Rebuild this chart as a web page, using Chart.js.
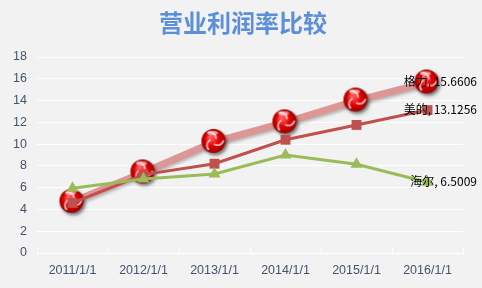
<!DOCTYPE html>
<html>
<head>
<meta charset="utf-8">
<script src="https://cdn.jsdelivr.net/npm/chart.js@4.4.1/dist/chart.umd.min.js"></script>
<style>
  html, body { margin: 0; padding: 0; background: #f2f2f2; }
  #wrap { width: 482px; height: 288px; }
</style>
</head>
<body>
<div id="wrap"><canvas id="chart" width="482" height="288"></canvas></div>
<script>
const years = ["2011/1/1", "2012/1/1", "2013/1/1", "2014/1/1", "2015/1/1", "2016/1/1"];
const geli = [4.7, 7.4, 10.2, 12.0, 14.0, 15.6606];
const meidi = [4.6, 7.2, 8.2, 10.4, 11.76, 13.1256];
const haier = [5.95, 6.8, 7.25, 9.0, 8.15, 6.5009];
const yTicks = [0, 2, 4, 6, 8, 10, 12, 14, 16, 18];
const titleText = "营业利润率比较";

// red glossy ball marker
const makeBall = () => {
  const c = document.createElement("canvas");
  c.width = 32; c.height = 32;
  const g = c.getContext("2d");
  const cx = 15, cy = 15, r = 12;
  g.save();
  g.shadowColor = "rgba(0,0,0,0.35)";
  g.shadowBlur = 3;
  g.shadowOffsetX = 2;
  g.shadowOffsetY = 2;
  const grad = g.createRadialGradient(cx - 3, cy - 4, 1, cx, cy, r);
  grad.addColorStop(0, "#ff6060");
  grad.addColorStop(0.55, "#e60000");
  grad.addColorStop(1, "#960000");
  g.fillStyle = grad;
  g.beginPath(); g.arc(cx, cy, r, 0, Math.PI * 2); g.fill();
  g.restore();
  // swirl
  g.strokeStyle = "rgba(255,235,235,0.85)";
  g.lineWidth = 1.7;
  for (let k = 0; k < 3; k++) {
    const a = k * 2 * Math.PI / 3 - 0.4;
    g.beginPath();
    g.arc(cx + Math.cos(a) * 4.5, cy + Math.sin(a) * 4.5, 6, a + 0.6, a + 2.6);
    g.stroke();
  }
  g.fillStyle = "rgba(255,255,255,0.55)";
  g.beginPath(); g.ellipse(cx - 1, cy - 8, 5.5, 2.3, 0, 0, Math.PI * 2); g.fill();
  return c;
};
const ball = makeBall();

const titlePlugin = {
  id: "centerTitle",
  afterDraw(chart) {
    const ctx = chart.ctx;
    ctx.save();
    ctx.font = "bold 24px 'Noto Sans CJK SC', sans-serif";
    ctx.fillStyle = "#5b8fd8";
    ctx.textAlign = "center";
    ctx.textBaseline = "middle";
    ctx.fillText(titleText, 243, 23);
    ctx.restore();
  },
};

const shadowPlugin = {
  id: "shadowLine",
  beforeDatasetDraw(chart, args) {
    if (args.index !== 0) return;
    const ctx = chart.ctx;
    ctx.save();
    ctx.shadowColor = "rgba(0,0,0,0.25)";
    ctx.shadowBlur = 3;
    ctx.shadowOffsetX = 1;
    ctx.shadowOffsetY = 2;
  },
  afterDatasetDraw(chart, args) {
    if (args.index === 0) chart.ctx.restore();
  },
};

// small upward tick marks on the category axis
const tickPlugin = {
  id: "innerTicks",
  afterDraw(chart) {
    const x = chart.scales.x;
    const area = chart.chartArea;
    const ctx = chart.ctx;
    ctx.save();
    ctx.strokeStyle = "#ffffff";
    ctx.lineWidth = 1;
    for (let i = 0; i <= years.length; i++) {
      let px;
      if (i === 0) px = area.left;
      else if (i === years.length) px = area.right;
      else px = (x.getPixelForValue(i - 1) + x.getPixelForValue(i)) / 2;
      px = Math.round(px) + 0.5;
      ctx.beginPath();
      ctx.moveTo(px, area.bottom - 5);
      ctx.lineTo(px, area.bottom);
      ctx.stroke();
    }
    ctx.restore();
  },
};

const endLabelPlugin = {
  id: "endLabels",
  afterDatasetsDraw(chart) {
    const ctx = chart.ctx;
    ctx.save();
    ctx.font = "12px 'Noto Sans CJK SC', sans-serif";
    ctx.fillStyle = "#000000";
    ctx.textAlign = "right";
    ctx.textBaseline = "middle";
    chart.data.datasets.forEach((ds, i) => {
      const meta = chart.getDatasetMeta(i);
      const pt = meta.data[meta.data.length - 1];
      const v = ds.data[ds.data.length - 1];
      ctx.fillText(`${ds.label}, ${v}`, 477, pt.y - 1);
    });
    ctx.restore();
  },
};

new Chart(document.getElementById("chart"), {
  type: "line",
  data: {
    labels: years,
    datasets: [
      {
        label: "格力",
        data: geli,
        borderColor: "#dc9696",
        borderWidth: 7,
        pointStyle: ball,
        pointRadius: 12,
        order: 3,
      },
      {
        label: "美的",
        data: meidi,
        borderColor: "#c0504d",
        backgroundColor: "#c0504d",
        borderWidth: 3,
        pointStyle: "rect",
        pointRadius: 7,
        pointBorderWidth: 0,
        order: 2,
      },
      {
        label: "海尔",
        data: haier,
        borderColor: "#9bbb59",
        backgroundColor: "#9bbb59",
        borderWidth: 3,
        pointStyle: "triangle",
        pointRadius: 7,
        pointBorderWidth: 0,
        order: 1,
      },
    ],
  },
  options: {
    responsive: false,
    animation: false,
    events: [],
    layout: { padding: { left: 0, right: 14, top: 57, bottom: 0 } },
    plugins: {
      legend: { display: false },
      tooltip: { enabled: false },
      title: { display: false },
    },
    scales: {
      x: {
        offset: true,
        grid: { display: false, drawTicks: false },
        border: { display: true, color: "#ffffff", width: 1 },
        ticks: {
          color: "#44546a",
          font: { size: 12.5, family: "'Liberation Sans', Arial, sans-serif" },
          padding: 10,
          maxRotation: 0,
        },
        afterFit: (s) => { s.height = 35; },
      },
      y: {
        min: 0,
        max: 18,
        afterBuildTicks: (s) => { s.ticks = yTicks.map((v) => ({ value: v })); },
        grid: { color: "#ffffff", lineWidth: 1, drawTicks: false },
        border: { display: false },
        ticks: {
          color: "#44546a",
          font: { size: 12.5, family: "'Liberation Sans', Arial, sans-serif" },
          padding: 10,
        },
        afterFit: (s) => { s.width = 37; },
      },
    },
  },
  plugins: [titlePlugin, shadowPlugin, tickPlugin, endLabelPlugin],
});
</script>
</body>
</html>
